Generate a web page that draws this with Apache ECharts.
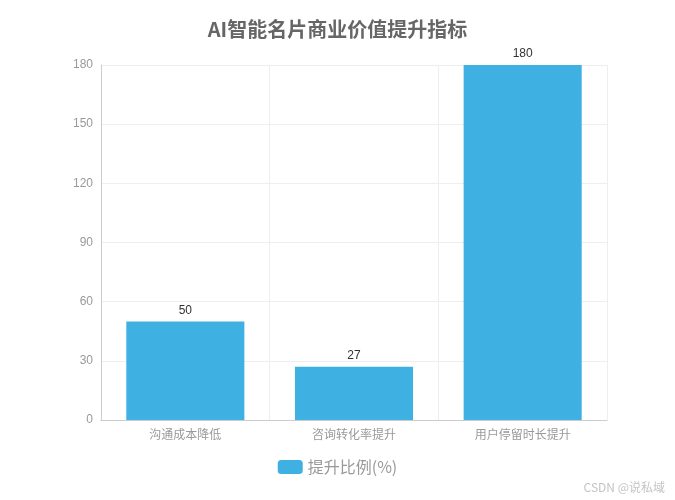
<!DOCTYPE html>
<html><head><meta charset="utf-8">
<script src="https://cdn.jsdelivr.net/npm/echarts@6/dist/echarts.min.js"></script>
<style>html,body{margin:0;padding:0;background:#fff}#c{width:675px;height:500px}</style>
</head><body><div id="c"></div>
<script>
const categories = ['沟通成本降低', '咨询转化率提升', '用户停留时长提升'];
const values = [50, 27, 180];
const seriesName = '提升比例(%)';
const chart = echarts.init(document.getElementById('c'));
chart.setOption({
  animation: false,
  title: { text: 'AI智能名片商业价值提升指标', left: 'center', top: 14,
    textStyle: { fontSize: 20, fontWeight: 'bold', color: '#666', fontFamily: 'Noto Sans CJK SC' } },
  legend: { bottom: 20, itemWidth: 25, itemHeight: 14, icon: 'roundRect',
    textStyle: { fontSize: 16, color: '#999', fontFamily: 'Noto Sans CJK SC' }, data: [seriesName] },
  grid: { left: 101, right: 68, top: 65, bottom: 80 },
  xAxis: { type: 'category', data: categories,
    axisLine: { lineStyle: { color: '#ccc' } }, axisTick: { show: false },
    axisLabel: { color: '#999', fontSize: 12, fontFamily: 'Noto Sans CJK SC', margin: 8 },
    splitLine: { show: true, lineStyle: { color: '#eee' } } },
  yAxis: { type: 'value', min: 0, max: 180, interval: 30,
    axisLine: { show: true, lineStyle: { color: '#ccc' } }, axisTick: { show: false },
    axisLabel: { color: '#999', fontSize: 12, margin: 8 },
    splitLine: { lineStyle: { color: '#eee' } } },
  series: [{ name: seriesName, type: 'bar', data: values, barCategoryGap: '30%',
    itemStyle: { color: '#3eb0e2' },
    label: { show: true, position: 'top', color: '#333', fontSize: 12 } }],
  graphic: [{ type: 'text', right: 10, bottom: 7,
    style: { text: 'CSDN @说私域', fill: '#c4c4c4', fontSize: 12, fontFamily: 'Noto Sans CJK SC' } }]
});
</script></body></html>
